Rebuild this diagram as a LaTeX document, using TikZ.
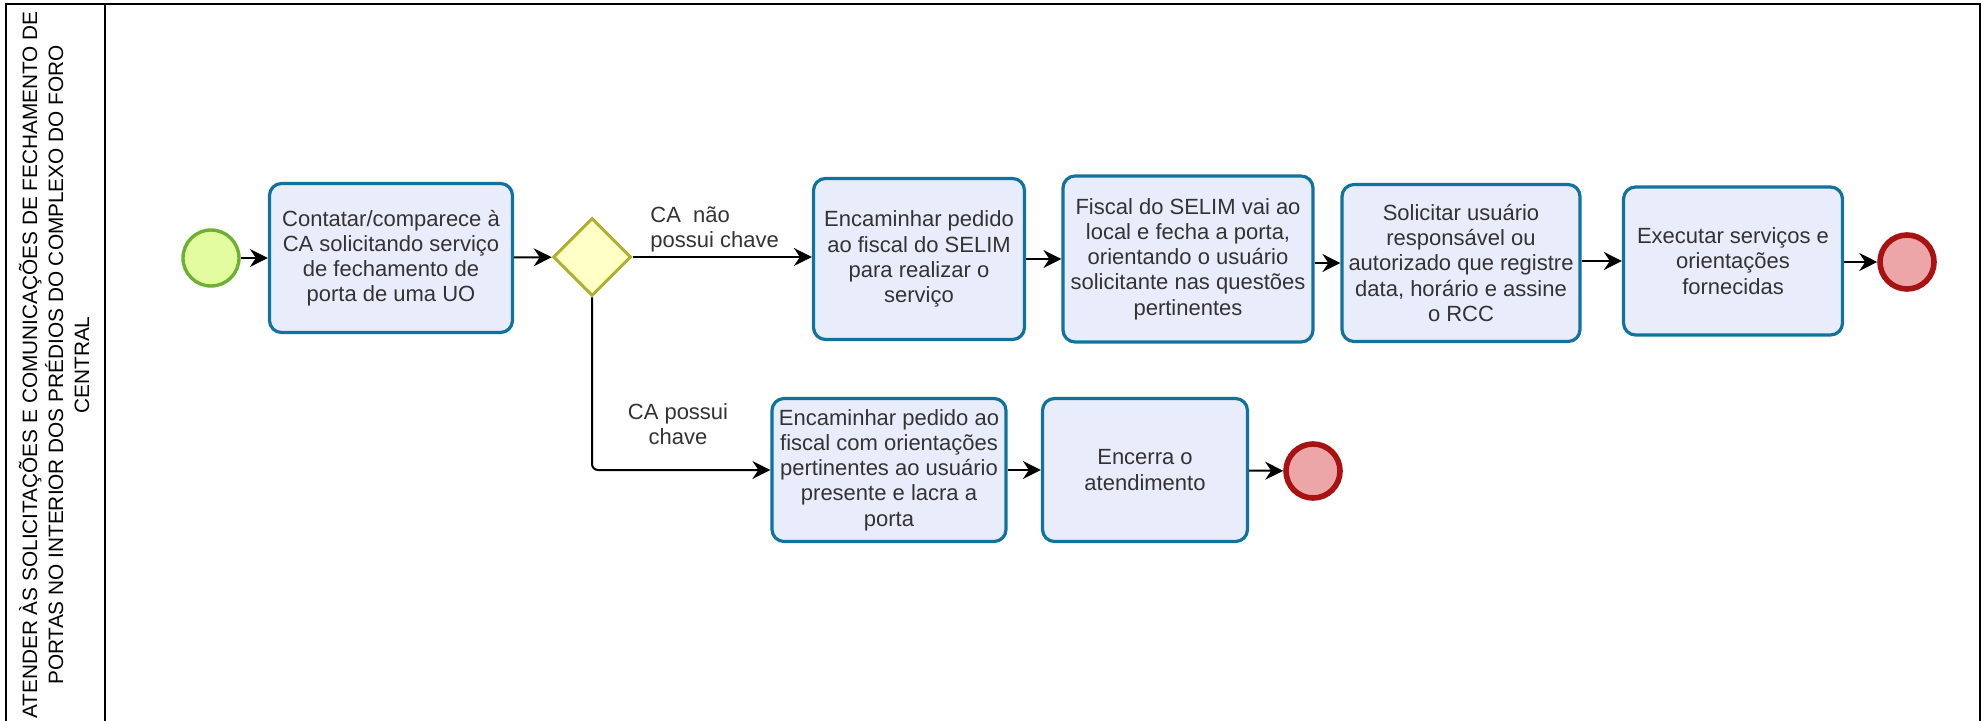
\documentclass[tikz,border=0pt]{standalone}
\usepackage{fontspec}
\setmainfont{Liberation Sans}
\usetikzlibrary{arrows.meta,shapes.geometric}

\definecolor{taskfill}{HTML}{E9ECFB}
\definecolor{taskline}{HTML}{10739E}
\definecolor{gatefill}{HTML}{FFFFC6}
\definecolor{gateline}{HTML}{B0B030}
\definecolor{startfill}{HTML}{E4FCA0}
\definecolor{startline}{HTML}{6DB033}
\definecolor{endfill}{HTML}{EDA6A8}
\definecolor{endline}{HTML}{A81212}
\definecolor{txtgray}{HTML}{333333}

\begin{document}
\begin{tikzpicture}[x=0.5pt,y=-0.5pt,font=\fontsize{11}{12.6}\selectfont,
  task/.style={draw=taskline,fill=taskfill,line width=1.6pt,rounded corners=6pt,
    align=center,text=txtgray,inner sep=0pt},
  gateway/.style={diamond,draw=gateline,fill=gatefill,line width=1.5pt,inner sep=0pt,
    minimum width=39pt,minimum height=39pt,aspect=1},
  startev/.style={circle,draw=startline,fill=startfill,line width=1.7pt,minimum size=28pt,inner sep=0pt},
  endev/.style={circle,draw=endline,fill=endfill,line width=2.8pt,minimum size=27pt,inner sep=0pt},
  flow/.style={draw=black,line width=1pt,-{Stealth[length=9pt,width=9pt,inset=3pt]}},
  flowlabel/.style={text=txtgray}]
  \useasboundingbox (0,0) rectangle (1984,721);
  \clip (0,0) rectangle (1984,721);

  % pool frame and lane title
  \draw[line width=1pt] (6,730) |- (1980,4) -- (1980,730);
  \draw[line width=1pt] (105,4) -- (105,730);
  \node[rotate=90,align=center,font=\fontsize{10.4}{13}\selectfont] (title) at (54,365)
    {ATENDER ÀS SOLICITAÇÕES E COMUNICAÇÕES DE FECHAMENTO DE\\
     PORTAS NO INTERIOR DOS PRÉDIOS DO COMPLEXO DO FORO\\
     CENTRAL};

  % events and gateway
  \node[startev] (start) at (211,258) {};
  \node[gateway] (gw) at (592,257) {};
  \node[endev] (end1) at (1907,262) {};
  \node[endev] (end2) at (1313,471) {};

  % tasks
  \node[task,minimum width=121.5pt,minimum height=74.5pt] (t1) at (391,258)
    {Contatar/comparece à\\CA solicitando serviço\\de fechamento de\\porta de uma UO};
  \node[task,minimum width=105.5pt,minimum height=80.5pt] (t2) at (919,259)
    {Encaminhar pedido\\ao fiscal do SELIM\\para realizar o\\serviço};
  \node[task,minimum width=125pt,minimum height=83pt] (t3) at (1188,259)
    {Fiscal do SELIM vai ao\\local e fecha a porta,\\orientando o usuário\\solicitante nas questões\\pertinentes};
  \node[task,minimum width=119pt,minimum height=78.5pt] (t4) at (1461,263)
    {Solicitar usuário\\responsável ou\\autorizado que registre\\data, horário e assine\\o RCC};
  \node[task,minimum width=109.5pt,minimum height=74pt] (t5) at (1733,261)
    {Executar serviços e\\orientações\\fornecidas};
  \node[task,minimum width=117pt,minimum height=71.5pt] (t6) at (889,470)
    {Encaminhar pedido ao\\fiscal com orientações\\pertinentes ao usuário\\presente e lacra a\\porta};
  \node[task,minimum width=102.5pt,minimum height=71.5pt] (t7) at (1145,470)
    {Encerra o\\atendimento};

  % branch labels
  \node[flowlabel,align=left,anchor=west,inner sep=0pt] (lbl1) at (650,229) {CA\ \ não\\possui chave};
  \node[flowlabel,align=center,inner sep=0pt] (lbl2) at (678,424) {CA possui\\chave};

  % sequence flows
  \draw[flow] (start) -- (t1);
  \draw[flow] (t1) -- (gw);
  \draw[flow] (gw.east) -- (gw.east -| t2.west);
  \draw[flow] (t2.east) -- (t2.east -| t3.west);
  \draw[flow] (t3.east |- t4.west) -- (t4.west);
  \draw[flow] (t4.east |- t5.west) -- (t5.west);
  \draw[flow] (t5.east |- end1) -- (end1);
  \draw[flow,rounded corners=3pt] (gw.south) |- (t6.west);
  \draw[flow] (t6) -- (t7);
  \draw[flow] (t7) -- (end2);
\end{tikzpicture}
\end{document}
